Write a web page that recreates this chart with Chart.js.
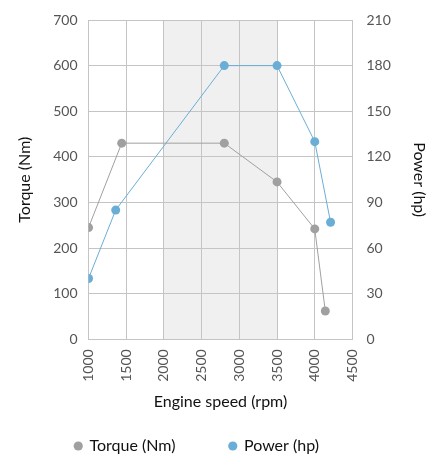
<!DOCTYPE html>
<html><head><meta charset="utf-8">
<script src="https://cdn.jsdelivr.net/npm/chart.js@4"></script>
<style>html,body{margin:0;padding:0;background:#fff}#wrap{width:438px;height:456px}</style>
</head><body><div id="wrap"><canvas id="c"></canvas></div>
<script>
const torqueRpm = [1000, 1440, 2800, 3500, 4000, 4140];
const torqueNm = [245, 430, 430, 345, 242, 62];
const powerRpm = [1000, 1360, 2800, 3500, 4000, 4210];
const powerHp = [40, 85, 180, 180, 130, 77];
const bandRange = [2000, 3500];
const xTicks = [1000, 1500, 2000, 2500, 3000, 3500, 4000, 4500];

const band = {
  id: 'band',
  beforeDatasetsDraw(chart) {
    const {ctx, chartArea, scales} = chart;
    const x0 = scales.x.getPixelForValue(bandRange[0]);
    const x1 = scales.x.getPixelForValue(bandRange[1]);
    ctx.save();
    ctx.fillStyle = 'rgba(200,200,200,0.28)';
    ctx.fillRect(x0, chartArea.top, x1 - x0, chartArea.bottom - chartArea.top);
    ctx.restore();
  }
};

// tighten the legend's vertical space while keeping wide horizontal spacing
const legendTweak = {
  id: 'legendTweak',
  beforeInit(chart) {
    const lg = chart.legend;
    if (!lg || lg._tweaked) return;
    lg._tweaked = true;
    const fit = lg.fit;
    lg.fit = function () { fit.call(this); this.height = Math.max(0, this.height - 39); };
    const draw = lg._draw;
    lg._draw = function () {
      const t = this.top, l = this.left;
      this.top = t - 31; this.left = l + 13;
      draw.call(this);
      this.top = t; this.left = l;
    };
  }
};

const noTopPad = s => { s.paddingTop = 0; };
const tickFont = {family: 'Lato, sans-serif', size: 14};
const titleFont = {family: 'Lato, sans-serif', size: 16};
new Chart(document.getElementById('c'), {
  type: 'line',
  data: {
    datasets: [
      {label: 'Torque (Nm)', data: torqueRpm.map((x, i) => ({x, y: torqueNm[i]})), yAxisID: 'y',
       borderColor: '#a0a0a0', backgroundColor: '#a0a0a0', borderWidth: 1, pointRadius: 4.5, pointBorderWidth: 0, pointHoverRadius: 4.5},
      {label: 'Power (hp)', data: powerRpm.map((x, i) => ({x, y: powerHp[i]})), yAxisID: 'y2',
       borderColor: '#6aaed6', backgroundColor: '#6aaed6', borderWidth: 1, pointRadius: 4.5, pointBorderWidth: 0, pointHoverRadius: 4.5}
    ]
  },
  options: {
    responsive: true, maintainAspectRatio: false, animation: false,
    layout: {padding: {left: 8, right: 3, top: 20, bottom: 0}},
    plugins: {
      legend: {position: 'bottom', align: 'start',
        labels: {usePointStyle: true, pointStyle: 'circle', boxWidth: 6.5, boxHeight: 6.5, padding: 54, color: '#111', font: titleFont}},
      tooltip: {enabled: false}
    },
    scales: {
      x: {type: 'linear', min: 1000, max: 4500,
          afterBuildTicks(s) { s.ticks = xTicks.map(v => ({value: v})); },
          ticks: {minRotation: 90, maxRotation: 90, color: '#555', font: tickFont, padding: 10, callback: v => String(v)},
          grid: {color: '#c4c4c4', drawTicks: false},
          border: {color: '#c4c4c4'},
          title: {display: true, text: 'Engine speed (rpm)', color: '#111', font: titleFont, padding: {top: 0, bottom: 4}}},
      y: {position: 'left', min: 0, max: 700, afterFit: noTopPad,
          ticks: {stepSize: 100, color: '#555', font: tickFont, padding: 11},
          grid: {color: '#c4c4c4', drawTicks: false}, border: {color: '#c4c4c4'},
          title: {display: true, text: 'Torque (Nm)', color: '#111', font: titleFont, padding: {top: 7, bottom: 8}}},
      y2: {position: 'right', min: 0, max: 210, afterFit: noTopPad,
          ticks: {stepSize: 30, color: '#555', font: tickFont, padding: 14},
          grid: {drawOnChartArea: false, drawTicks: false}, border: {color: '#c4c4c4'},
          title: {display: true, text: 'Power (hp)', color: '#111', font: titleFont, padding: {top: 6, bottom: 5}}}
    }
  },
  plugins: [band, legendTweak]
});
</script></body></html>
